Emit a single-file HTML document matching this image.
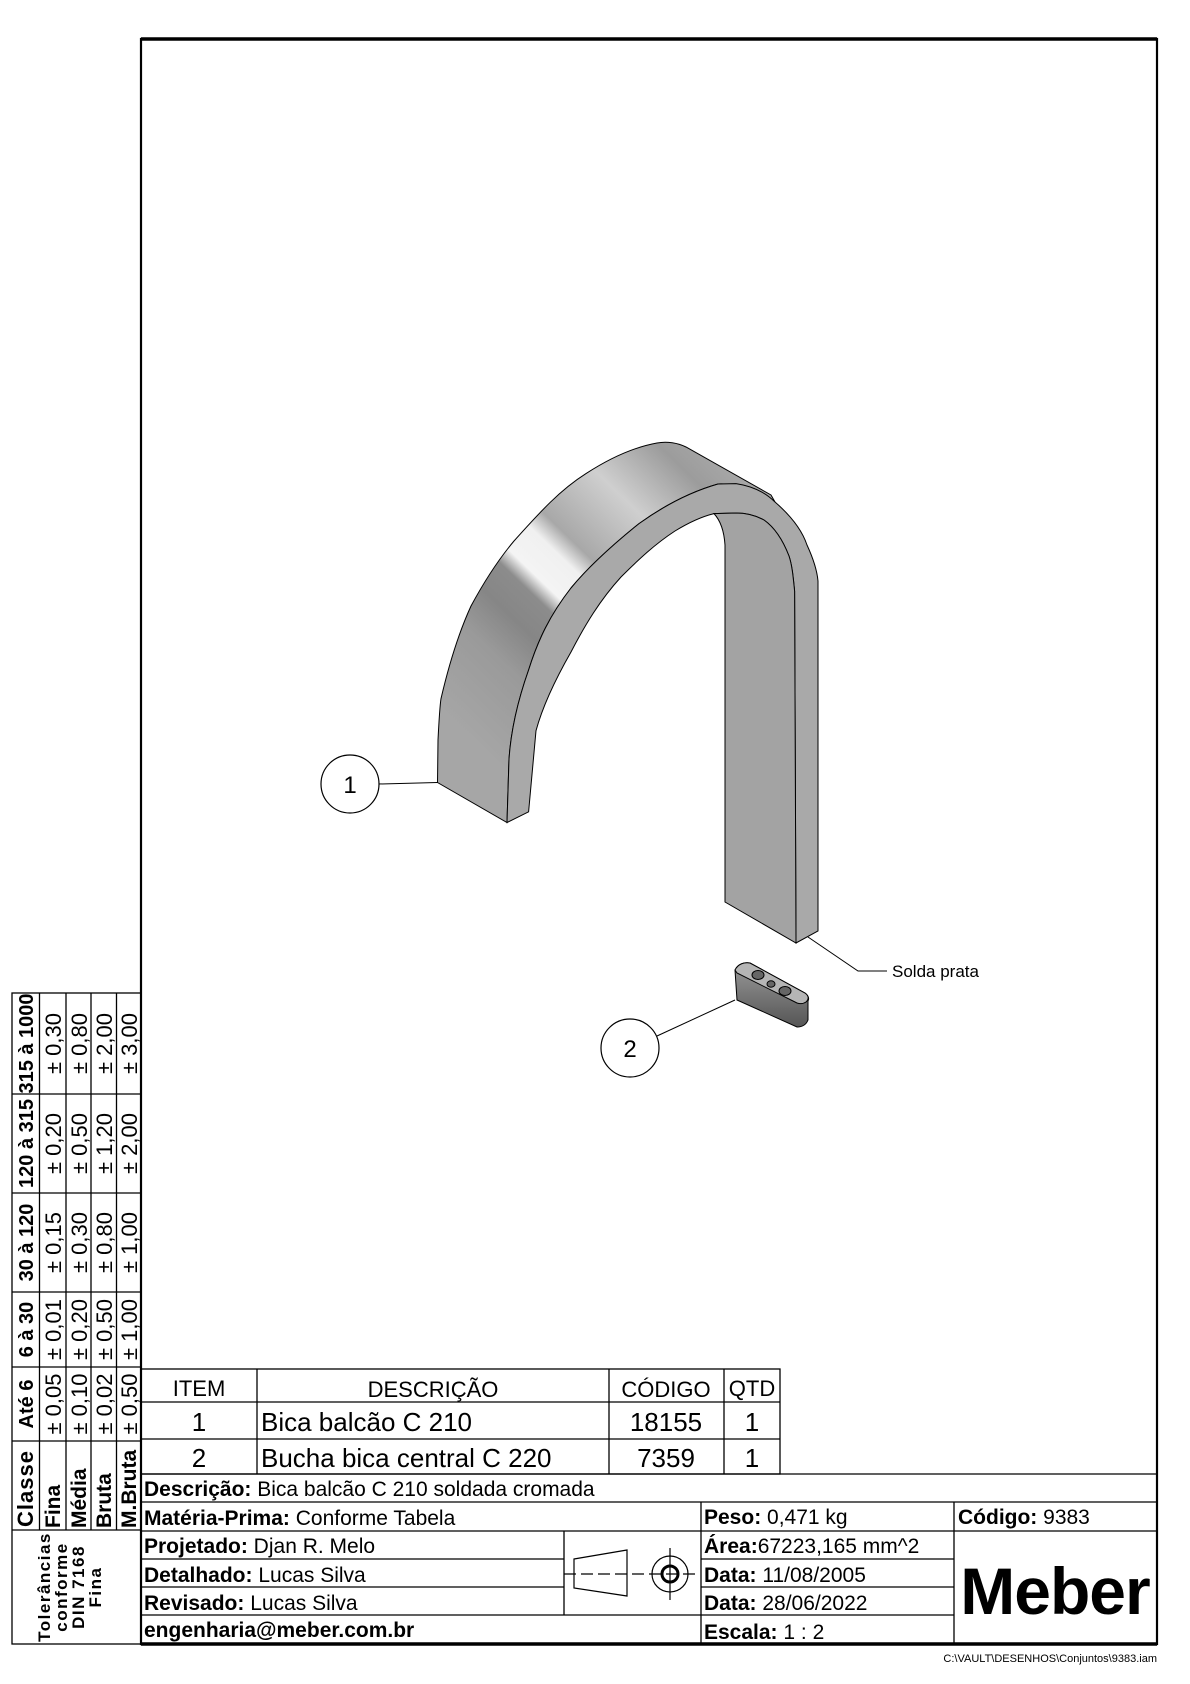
<!DOCTYPE html>
<html><head><meta charset="utf-8"><style>
html,body{margin:0;padding:0;background:#fff}
svg{display:block}
text{font-family:"Liberation Sans",Arial,sans-serif;fill:#000}
.n{font-family:"Liberation Sans Narrow","Liberation Sans",sans-serif}
.b{font-weight:bold}
</style></head><body>
<svg width="1190" height="1684" viewBox="0 0 1190 1684" xmlns="http://www.w3.org/2000/svg">
<defs>
<linearGradient id="g1" x1="450" y1="720" x2="720" y2="440" gradientUnits="userSpaceOnUse">
<stop offset="0" stop-color="#a6a6a6"/>
<stop offset="0.2" stop-color="#9a9a9a"/>
<stop offset="0.3" stop-color="#868686"/>
<stop offset="0.38" stop-color="#8c8c8c"/>
<stop offset="0.42" stop-color="#f4f4f4"/>
<stop offset="0.5" stop-color="#f0f0f0"/>
<stop offset="0.55" stop-color="#a8a8a8"/>
<stop offset="0.72" stop-color="#cfcfcf"/>
<stop offset="0.88" stop-color="#9c9c9c"/>
<stop offset="1" stop-color="#ababab"/>
</linearGradient>
<linearGradient id="g2" x1="0" y1="0" x2="0" y2="1">
<stop offset="0" stop-color="#999"/><stop offset="1" stop-color="#555"/>
</linearGradient>
</defs>

<rect x="141" y="39" width="1016" height="1605" fill="none" stroke="#000" stroke-width="2.2"/>
<line x1="141" y1="39" x2="1157" y2="39" stroke="#000" stroke-width="3.5"/>
<line x1="141" y1="1644" x2="1157" y2="1644" stroke="#000" stroke-width="3.5"/>

<path d="M437.5,782.5 L438,740 C439,720 440,705 441,698.6 C450,660 460,630 471,606 C485,580 498,560 514,541 C540,512 560,490 586,473.6 C610,458 635,447 657,443 C667,441 678,443 686,447 L771,495 L775,502 C750,490 735,483 718,484 C690,492 665,505 639,523.6 C615,543 590,565 571,588 C550,615 538,640 528.6,670 C518,700 511,730 509,759 L507,822.5 Z" fill="url(#g1)" stroke="#000" stroke-width="1"/>
<path d="M507,822.5 L509,759 C511,730 518,700 528.6,670 C538,640 550,615 571,588 C590,565 615,543 639,523.6 C665,505 690,492 718,484 L736,483.6 C752,486 765,492 775,502 C790,515 802,530 807,545 C813,558 817,570 818,581 L818,931 L796,943 L794.6,591 C793,575 792,565 789,556 C782,538 774,527 764,520 C755,515 745,513 736,513 L714,513.6 C700,517 688,523 675,531 C655,544 638,560 621,577 C600,600 585,625 571,652 C555,680 543,705 536,730.7 L528.6,811.8 Z" fill="#a9a9a9" stroke="#000" stroke-width="1"/>
<path d="M714,513.6 C720,520 724,530 725,545 L725,902 L796,943 L794.6,591 C793,575 792,565 789,556 C782,538 774,527 764,520 C755,515 745,513 736,513 Z" fill="#a3a3a3" stroke="#000" stroke-width="1"/>

<path d="M735,970 C738,964 744,962 750,963 L805,993 C809,996 809,999 808,1001 L808,1020 C806,1025 802,1027 797,1027 L737,1000 Z" fill="url(#g2)" stroke="#000" stroke-width="1"/>
<path d="M735,970 C738,964 744,962 750,963 L805,993 C809,996 809,999 806,1002 C803,1004 800,1004 797,1003 L737,973 Z" fill="#b5b5b5" stroke="#000" stroke-width="1"/>
<ellipse cx="758" cy="975" rx="6" ry="4.5" fill="#666" stroke="#000"/>
<ellipse cx="771" cy="984" rx="4" ry="3.2" fill="#666" stroke="#000"/>
<ellipse cx="785" cy="991" rx="6" ry="4.5" fill="#666" stroke="#000"/>

<circle cx="350" cy="784" r="29" fill="#fff" stroke="#000" stroke-width="1.2"/>
<text x="350" y="793" font-size="24" text-anchor="middle">1</text>
<line x1="379" y1="784" x2="437.5" y2="782.5" stroke="#000"/>
<circle cx="630" cy="1048" r="29" fill="#fff" stroke="#000" stroke-width="1.2"/>
<text x="630" y="1057" font-size="24" text-anchor="middle">2</text>
<line x1="657" y1="1036" x2="735" y2="1000" stroke="#000"/>
<polyline points="808,937 858,971 887,971" fill="none" stroke="#000"/>
<text x="892" y="977" font-size="17">Solda prata</text>

<g stroke="#000" stroke-width="1.3" fill="none">
<rect x="12" y="993" width="129" height="651"/>
<line x1="39.5" y1="993" x2="39.5" y2="1530"/>
<line x1="66" y1="993" x2="66" y2="1530"/>
<line x1="91" y1="993" x2="91" y2="1530"/>
<line x1="116.5" y1="993" x2="116.5" y2="1530"/>
<line x1="12" y1="1094" x2="141" y2="1094"/>
<line x1="12" y1="1193" x2="141" y2="1193"/>
<line x1="12" y1="1292" x2="141" y2="1292"/>
<line x1="12" y1="1367" x2="141" y2="1367"/>
<line x1="12" y1="1441" x2="141" y2="1441"/>
<line x1="12" y1="1530" x2="141" y2="1530"/>
</g>
<g font-size="20">
<text class="b" transform="translate(33,1043.5) rotate(-90)" text-anchor="middle">315 à 1000</text>
<text class="b" transform="translate(33,1143.5) rotate(-90)" text-anchor="middle">120 à 315</text>
<text class="b" transform="translate(33,1242.5) rotate(-90)" text-anchor="middle">30 à 120</text>
<text class="b" transform="translate(33,1329.5) rotate(-90)" text-anchor="middle">6 à 30</text>
<text class="b" transform="translate(33,1404) rotate(-90)" text-anchor="middle">Até 6</text>
<text class="b" transform="translate(33,1527) rotate(-90)" font-size="22" letter-spacing="1">Classe</text>
</g>
<g font-size="22">
<text transform="translate(61,1043.5) rotate(-90)" text-anchor="middle">± 0,30</text>
<text transform="translate(87,1043.5) rotate(-90)" text-anchor="middle">± 0,80</text>
<text transform="translate(112,1043.5) rotate(-90)" text-anchor="middle">± 2,00</text>
<text transform="translate(137,1043.5) rotate(-90)" text-anchor="middle">± 3,00</text>
<text transform="translate(61,1143.5) rotate(-90)" text-anchor="middle">± 0,20</text>
<text transform="translate(87,1143.5) rotate(-90)" text-anchor="middle">± 0,50</text>
<text transform="translate(112,1143.5) rotate(-90)" text-anchor="middle">± 1,20</text>
<text transform="translate(137,1143.5) rotate(-90)" text-anchor="middle">± 2,00</text>
<text transform="translate(61,1242.5) rotate(-90)" text-anchor="middle">± 0,15</text>
<text transform="translate(87,1242.5) rotate(-90)" text-anchor="middle">± 0,30</text>
<text transform="translate(112,1242.5) rotate(-90)" text-anchor="middle">± 0,80</text>
<text transform="translate(137,1242.5) rotate(-90)" text-anchor="middle">± 1,00</text>
<text transform="translate(61,1329.5) rotate(-90)" text-anchor="middle">± 0,01</text>
<text transform="translate(87,1329.5) rotate(-90)" text-anchor="middle">± 0,20</text>
<text transform="translate(112,1329.5) rotate(-90)" text-anchor="middle">± 0,50</text>
<text transform="translate(137,1329.5) rotate(-90)" text-anchor="middle">± 1,00</text>
<text transform="translate(61,1404) rotate(-90)" text-anchor="middle">± 0,05</text>
<text transform="translate(87,1404) rotate(-90)" text-anchor="middle">± 0,10</text>
<text transform="translate(112,1404) rotate(-90)" text-anchor="middle">± 0,02</text>
<text transform="translate(137,1404) rotate(-90)" text-anchor="middle">± 0,50</text>
</g>
<g font-size="21">
<text class="b" transform="translate(60,1528) rotate(-90)">Fina</text>
<text class="b" transform="translate(86,1528) rotate(-90)">Média</text>
<text class="b" transform="translate(111,1528) rotate(-90)">Bruta</text>
<text class="b" transform="translate(136,1528) rotate(-90)">M.Bruta</text>
</g>
<g font-size="17">
<text class="b" transform="translate(50,1587) rotate(-90)" text-anchor="middle" letter-spacing="1.5">Tolerâncias</text>
<text class="b" transform="translate(67,1587) rotate(-90)" text-anchor="middle" letter-spacing="1.5">conforme</text>
<text class="b" transform="translate(84,1587) rotate(-90)" text-anchor="middle" letter-spacing="1.5">DIN 7168</text>
<text class="b" transform="translate(101,1587) rotate(-90)" text-anchor="middle" letter-spacing="1.5">Fina</text>
</g>

<g stroke="#000" stroke-width="1.3" fill="none">
<rect x="141" y="1369" width="639" height="105"/>
<line x1="141" y1="1402" x2="780" y2="1402"/>
<line x1="141" y1="1439" x2="780" y2="1439"/>
<line x1="257" y1="1369" x2="257" y2="1474"/>
<line x1="609" y1="1369" x2="609" y2="1474"/>
<line x1="724" y1="1369" x2="724" y2="1474"/>
</g>
<g font-size="22">
<text class="n" x="199" y="1396" text-anchor="middle">ITEM</text>
<text class="n" x="433" y="1397" text-anchor="middle">DESCRIÇÃO</text>
<text class="n" x="666" y="1397" text-anchor="middle">CÓDIGO</text>
<text class="n" x="752" y="1396" text-anchor="middle">QTD</text>
</g>
<g font-size="26">
<text x="199" y="1431" text-anchor="middle">1</text>
<text x="261" y="1431">Bica balcão C 210</text>
<text x="666" y="1431" text-anchor="middle">18155</text>
<text x="752" y="1431" text-anchor="middle">1</text>
<text x="199" y="1467" text-anchor="middle">2</text>
<text x="261" y="1467">Bucha bica central C 220</text>
<text x="666" y="1467" text-anchor="middle">7359</text>
<text x="752" y="1467" text-anchor="middle">1</text>
</g>

<g stroke="#000" stroke-width="1.3" fill="none">
<line x1="141" y1="1474" x2="1157" y2="1474"/>
<line x1="141" y1="1502" x2="1157" y2="1502"/>
<line x1="141" y1="1531" x2="1157" y2="1531"/>
<line x1="141" y1="1559" x2="564" y2="1559"/>
<line x1="141" y1="1587" x2="564" y2="1587"/>
<line x1="141" y1="1615" x2="564" y2="1615"/>
<line x1="564" y1="1615" x2="701" y2="1615"/>
<line x1="701" y1="1559" x2="954" y2="1559"/>
<line x1="701" y1="1587" x2="954" y2="1587"/>
<line x1="701" y1="1615" x2="954" y2="1615"/>
<line x1="564" y1="1531" x2="564" y2="1615"/>
<line x1="701" y1="1502" x2="701" y2="1644"/>
<line x1="954" y1="1502" x2="954" y2="1644"/>
</g>
<g font-size="21">
<text x="144" y="1496"><tspan font-weight="bold">Descrição:</tspan> Bica balcão C 210 soldada cromada</text>
<text x="144" y="1525"><tspan font-weight="bold">Matéria-Prima:</tspan> Conforme Tabela</text>
<text x="144" y="1553"><tspan font-weight="bold">Projetado:</tspan> Djan R. Melo</text>
<text x="144" y="1582"><tspan font-weight="bold">Detalhado:</tspan> Lucas Silva</text>
<text x="144" y="1610"><tspan font-weight="bold">Revisado:</tspan> Lucas Silva</text>
<text x="144" y="1637" font-weight="bold">engenharia@meber.com.br</text>
<text x="704" y="1524"><tspan font-weight="bold">Peso:</tspan> 0,471 kg</text>
<text x="704" y="1553"><tspan font-weight="bold">Área:</tspan>67223,165 mm^2</text>
<text x="704" y="1582"><tspan font-weight="bold">Data:</tspan> 11/08/2005</text>
<text x="704" y="1610"><tspan font-weight="bold">Data:</tspan> 28/06/2022</text>
<text x="704" y="1639"><tspan font-weight="bold">Escala:</tspan> 1 : 2</text>
<text x="958" y="1524"><tspan font-weight="bold">Código:</tspan> 9383</text>
</g>
<text x="1055" y="1614" font-size="66" font-weight="bold" text-anchor="middle" letter-spacing="-1">Meber</text>

<g stroke="#000" stroke-width="1.2" fill="none">
<polygon points="574,1559 627,1550 627,1596 574,1588"/>
<line x1="564" y1="1574" x2="698" y2="1574" stroke-dasharray="12,5"/>
<circle cx="670" cy="1574" r="18"/>
<circle cx="670" cy="1574" r="8" stroke-width="3"/>
<line x1="670" y1="1548" x2="670" y2="1600"/>
</g>

<text x="1157" y="1662" font-size="11" text-anchor="end">C:\VAULT\DESENHOS\Conjuntos\9383.iam</text>
</svg>
</body></html>
